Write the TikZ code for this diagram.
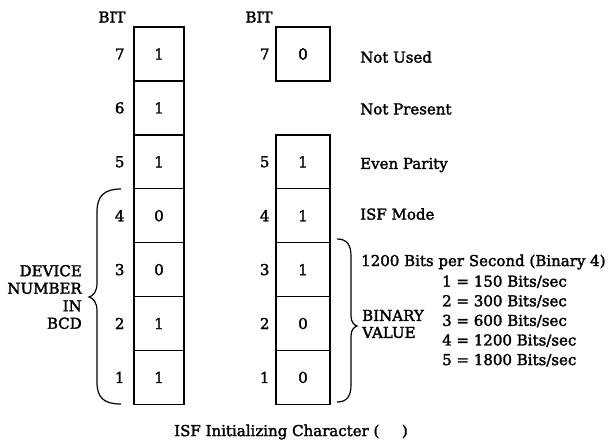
\documentclass[tikz,border=0pt]{standalone}
\usepackage{fontspec}
\setmainfont[FakeBold=2]{DejaVu Serif}
\usetikzlibrary{positioning}

\begin{document}
\begin{tikzpicture}[
  x=1pt, y=-1pt, every node/.style={font=\fontsize{15}{18}\selectfont},
  cell/.style={draw, line width=1.3pt, minimum width=50pt,
    minimum height=53.9pt, inner sep=0pt, outer sep=0pt},
  wcell/.style={cell, minimum width=54pt},
  note/.style={anchor=west, inner sep=0pt},
  brace/.style={line width=1.2pt},
]
\useasboundingbox (0,0) rectangle (613,442);

% device number column
\node[cell] (L7) at (159, 54) {1};
\node[cell, below=0pt of L7] (L6) {1};
\node[cell, below=0pt of L6] (L5) {1};
\node[cell, below=0pt of L5] (L4) {0};
\node[cell, below=0pt of L4] (L3) {0};
\node[cell, below=0pt of L3] (L2) {1};
\node[cell, below=0pt of L2] (L1) {1};
\node[above left=1pt and 5pt of L7.north west] (bitL) {BIT};
\node[left=6pt of L7] (nL7) {7};
\node[left=6pt of L6] (nL6) {6};
\node[left=6pt of L5] (nL5) {5};
\node[left=6pt of L4] (nL4) {4};
\node[left=6pt of L3] (nL3) {3};
\node[left=6pt of L2] (nL2) {2};
\node[left=6pt of L1] (nL1) {1};

% ISF character column (no bit 6)
\node[wcell] (R7) at (303, 54) {0};
\node[wcell, below=53.9pt of R7] (R5) {1};
\node[wcell, below=0pt of R5] (R4) {1};
\node[wcell, below=0pt of R4] (R3) {1};
\node[wcell, below=0pt of R3] (R2) {0};
\node[wcell, below=0pt of R2] (R1) {0};
\node[above left=1pt and 0pt of R7.north west] (bitR) {BIT};
\node[left=3pt of R7] (nR7) {7};
\node[left=3pt of R5] (nR5) {5};
\node[left=3pt of R4] (nR4) {4};
\node[left=3pt of R3] (nR3) {3};
\node[left=3pt of R2] (nR2) {2};
\node[left=3pt of R1] (nR1) {1};

% meanings
\node[note] (used) at (360, 57) {Not Used};
\node[note] (present) at (used.west |- 0,109) {Not Present};
\node[note] (parity) at (used.west |- 0,165) {Even Parity};
\node[note] (mode) at (used.west |- 0,214) {ISF Mode};
\node[note] (rate) at (361, 262) {1200 Bits per Second (Binary 4)};
\node[note, align=left, font=\fontsize{15}{19.6}\selectfont] (rates)
  at (442, 321) {1 = 150 Bits/sec\\2 = 300 Bits/sec\\3 = 600 Bits/sec\\
  4 = 1200 Bits/sec\\5 = 1800 Bits/sec};
\node[note, align=left, font=\fontsize{15}{17}\selectfont] (binval)
  at (362, 324) {BINARY\\VALUE};
\node[anchor=east, inner sep=0pt, align=right,
  font=\fontsize{15}{17.5}\selectfont] (dev) at (82, 297)
  {DEVICE\\NUMBER\\IN\\BCD};

% braces
\draw[brace] (121,189) .. controls (104,189) and (97,196) .. (97,212)
  -- (97,283) .. controls (97,292) and (93,296) .. (89,297)
  .. controls (93,298) and (97,302) .. (97,311) -- (97,382)
  .. controls (97,398) and (104,404) .. (121,404);
\draw[brace] (337,239) .. controls (347,239) and (351,245) .. (351,256)
  -- (351,316) .. controls (351,322) and (354,325) .. (357,326)
  .. controls (354,327) and (351,330) .. (351,336) -- (351,385)
  .. controls (351,396) and (347,402) .. (337,402);

\node (caption) at (291, 432) {ISF Initializing Character (\hspace{1.5em})};
\end{tikzpicture}
\end{document}
